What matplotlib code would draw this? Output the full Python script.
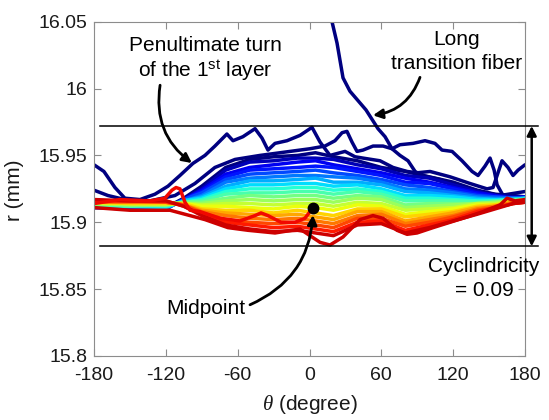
import matplotlib
matplotlib.use('Agg')
import matplotlib.pyplot as plt
import numpy as np

plt.rcParams['font.family'] = ['Liberation Sans', 'DejaVu Sans']
plt.rcParams['mathtext.fontset'] = 'custom'
plt.rcParams['mathtext.rm'] = 'Liberation Sans'
plt.rcParams['mathtext.it'] = 'Liberation Serif:italic'

# ---------------- data ----------------
theta_fan = [-180, -150, -120, -105, -90, -70, -50, -30, -10, 5, 20, 40, 60, 80, 100, 120, 140, 155, 170, 180]
fan_r = [
    [15.912, 15.910, 15.911, 15.918, 15.927, 15.941, 15.947, 15.949, 15.950, 15.952, 15.949, 15.946, 15.941, 15.938, 15.934, 15.930, 15.924, 15.921, 15.920, 15.919],
    [15.911, 15.911, 15.910, 15.917, 15.925, 15.939, 15.945, 15.946, 15.948, 15.948, 15.947, 15.943, 15.940, 15.935, 15.933, 15.928, 15.923, 15.920, 15.919, 15.919],
    [15.911, 15.910, 15.911, 15.917, 15.924, 15.936, 15.941, 15.943, 15.945, 15.946, 15.943, 15.940, 15.937, 15.933, 15.930, 15.926, 15.922, 15.920, 15.918, 15.919],
    [15.912, 15.911, 15.911, 15.917, 15.923, 15.934, 15.939, 15.940, 15.941, 15.942, 15.941, 15.938, 15.935, 15.930, 15.929, 15.925, 15.921, 15.919, 15.918, 15.918],
    [15.912, 15.911, 15.910, 15.917, 15.922, 15.932, 15.936, 15.937, 15.938, 15.939, 15.937, 15.935, 15.932, 15.928, 15.926, 15.923, 15.920, 15.919, 15.918, 15.918],
    [15.913, 15.912, 15.912, 15.916, 15.920, 15.930, 15.933, 15.934, 15.935, 15.935, 15.934, 15.933, 15.930, 15.925, 15.924, 15.922, 15.919, 15.918, 15.918, 15.918],
    [15.912, 15.912, 15.912, 15.916, 15.919, 15.927, 15.931, 15.931, 15.932, 15.933, 15.930, 15.930, 15.928, 15.923, 15.922, 15.920, 15.918, 15.917, 15.917, 15.918],
    [15.913, 15.912, 15.911, 15.916, 15.918, 15.925, 15.928, 15.928, 15.929, 15.929, 15.927, 15.928, 15.925, 15.920, 15.920, 15.919, 15.917, 15.917, 15.917, 15.918],
    [15.913, 15.913, 15.912, 15.915, 15.917, 15.923, 15.925, 15.925, 15.926, 15.926, 15.924, 15.925, 15.923, 15.918, 15.918, 15.917, 15.916, 15.916, 15.917, 15.917],
    [15.913, 15.912, 15.913, 15.915, 15.916, 15.921, 15.922, 15.922, 15.923, 15.923, 15.921, 15.923, 15.921, 15.916, 15.916, 15.916, 15.915, 15.916, 15.917, 15.917],
    [15.914, 15.913, 15.913, 15.915, 15.915, 15.918, 15.920, 15.919, 15.920, 15.920, 15.918, 15.920, 15.919, 15.913, 15.914, 15.914, 15.914, 15.915, 15.916, 15.917],
    [15.914, 15.913, 15.913, 15.914, 15.914, 15.916, 15.917, 15.916, 15.917, 15.917, 15.915, 15.918, 15.917, 15.911, 15.912, 15.913, 15.914, 15.915, 15.916, 15.917],
    [15.914, 15.914, 15.914, 15.914, 15.913, 15.914, 15.914, 15.913, 15.914, 15.914, 15.912, 15.915, 15.914, 15.909, 15.910, 15.911, 15.914, 15.914, 15.916, 15.916],
    [15.915, 15.914, 15.914, 15.914, 15.912, 15.912, 15.911, 15.910, 15.912, 15.911, 15.909, 15.913, 15.912, 15.906, 15.908, 15.910, 15.913, 15.913, 15.916, 15.916],
    [15.915, 15.914, 15.914, 15.914, 15.910, 15.909, 15.909, 15.907, 15.909, 15.907, 15.905, 15.910, 15.910, 15.904, 15.906, 15.908, 15.912, 15.913, 15.915, 15.916],
    [15.915, 15.915, 15.915, 15.913, 15.909, 15.907, 15.906, 15.905, 15.906, 15.904, 15.902, 15.908, 15.908, 15.901, 15.904, 15.907, 15.911, 15.912, 15.915, 15.916],
    [15.915, 15.915, 15.915, 15.913, 15.908, 15.905, 15.903, 15.902, 15.903, 15.901, 15.899, 15.905, 15.906, 15.899, 15.902, 15.905, 15.910, 15.912, 15.915, 15.916],
    [15.916, 15.916, 15.915, 15.913, 15.907, 15.902, 15.900, 15.899, 15.900, 15.898, 15.896, 15.903, 15.903, 15.897, 15.900, 15.904, 15.909, 15.911, 15.914, 15.915],
    [15.916, 15.916, 15.916, 15.912, 15.906, 15.900, 15.898, 15.896, 15.897, 15.895, 15.893, 15.900, 15.901, 15.894, 15.898, 15.902, 15.908, 15.911, 15.914, 15.915],
    [15.917, 15.916, 15.916, 15.912, 15.905, 15.898, 15.895, 15.893, 15.894, 15.892, 15.890, 15.898, 15.899, 15.892, 15.896, 15.901, 15.906, 15.910, 15.914, 15.915],
]

# penultimate turn of the 1st layer
theta_pen = [-180, -171.7, -162.5, -154.2, -141.6, -129.1, -118.2, -108.2, -97.4, -87.3, -79.0, -69.0, -63.9, -55.6,
             -45.5, -39.7, -34.7, -28.8, -18.8, -7.9, 2.1, 8.8, 17.1, 29.7, 38.0, 44.7, 58.9, 69.8, 81.5, 89.8,
             100.7, 117.4, 134.1, 148.3, 153.3, 156.7, 160.8, 165.8, 170.0, 174.2, 180]
r_pen = [15.943, 15.938, 15.926, 15.918, 15.917, 15.921, 15.927, 15.935, 15.944, 15.950, 15.957, 15.966, 15.961, 15.964,
         15.970, 15.963, 15.954, 15.959, 15.961, 15.965, 15.971, 15.960, 15.950, 15.953, 15.949, 15.948, 15.946, 15.941,
         15.938, 15.937, 15.938, 15.934, 15.929, 15.925, 15.926, 15.935, 15.946, 15.941, 15.935, 15.939, 15.943]

# another early (dark blue) turn
theta_early = [-180, -168.3, -154.2, -133.3, -112.4, -95.7, -79.0, -62.2, -41.4, -16.3, 0.4, 12.9, 21.3, 27.2, 31.3,
               35.5, 39.7, 44.7, 53.1, 61.4, 68.9, 75.6, 82.3, 88.2, 94.0, 109.0, 125.7, 142.5, 159.2, 180]
r_early = [15.924, 15.920, 15.917, 15.916, 15.920, 15.929, 15.941, 15.947, 15.950, 15.953, 15.955, 15.957, 15.961, 15.967,
           15.968, 15.960, 15.953, 15.954, 15.957, 15.957, 15.955, 15.950, 15.946, 15.938, 15.935, 15.932, 15.927,
           15.923, 15.920, 15.923]

# long transition fiber
theta_long = [16.3, 18.8, 23.0, 28.0, 33.8, 40.5, 47.2, 52.2, 57.2, 63.1, 68.9, 75.6, 86.5, 96.5, 104.8, 110.7, 119.1,
              127.4, 135.8, 140.8, 146.6, 150.8, 154.2, 156.7, 161.7, 169.2, 180]
r_long = [16.058, 16.050, 16.034, 16.008, 15.998, 15.991, 15.984, 15.977, 15.970, 15.964, 15.955, 15.958, 15.959, 15.961,
          15.959, 15.954, 15.953, 15.946, 15.938, 15.935, 15.942, 15.948, 15.939, 15.928, 15.920, 15.918, 15.919]

# last turns (red)
theta_last1 = [-180, -158.3, -133.3, -120.8, -114.9, -111.5, -108.2, -104.0, -99.8, -91.5, -74.8, -58.1, -45.5, -40.5,
               -34.7, -23.8, -12.1, -3.8, 0.4, 3.3]
r_last1 = [15.914, 15.917, 15.916, 15.918, 15.924, 15.926, 15.925, 15.915, 15.909, 15.908, 15.903, 15.901, 15.905, 15.907,
           15.905, 15.900, 15.900, 15.903, 15.908, 15.911]

theta_last2 = [-180, -150, -116.5, -87.3, -68.1, -51.4, -28.8, -7.9, 0.4, 8.8, 17.1, 28.0, 42.2, 53.0, 61.4, 73.1, 81.5,
               89.8, 103.2, 117.4, 131.6, 145.0, 159.2, 165.0, 171.7, 180]
r_last2 = [15.911, 15.909, 15.909, 15.902, 15.896, 15.894, 15.892, 15.895, 15.890, 15.885, 15.883, 15.889, 15.902, 15.905,
           15.903, 15.894, 15.891, 15.892, 15.896, 15.900, 15.904, 15.908, 15.913, 15.918, 15.916, 15.917]

mid_theta = [3.3]
mid_r = [15.911]

band_theta = [-175, 191]
band_r = [15.972, 15.882]

x_ticks = [-180, -120, -60, 0, 60, 120, 180]
y_ticks = [15.8, 15.85, 15.9, 15.95, 16.0, 16.05]
y_ticklabels = ['15.8', '15.85', '15.9', '15.95', '16', '16.05']

# ---------------- figure ----------------
W, H = 549, 420
fig = plt.figure(figsize=(W / 100, H / 100), dpi=100)
ax = fig.add_axes([94 / W, 1 - 356 / H, (525 - 94) / W, (356 - 21.7) / H])

navy = plt.cm.jet(0.0)
lw = 2.5

for th, rr in [(theta_long, r_long), (theta_early, r_early), (theta_pen, r_pen)]:
    ax.plot(th, rr, color=navy, lw=lw, solid_joinstyle='round', solid_capstyle='round')

n = len(fan_r)
for k, rr in enumerate(fan_r):
    ax.plot(theta_fan, rr, color=plt.cm.jet(0.93 * k / (n - 1)), lw=lw, solid_joinstyle='round')

ax.plot(theta_last2, r_last2, color=plt.cm.jet(0.93), lw=lw, solid_joinstyle='round')
ax.plot(theta_last1, r_last1, color=plt.cm.jet(0.90), lw=lw, solid_joinstyle='round')

ax.plot(mid_theta, mid_r, 'o', color='k', ms=7.5, zorder=10)

for rv in band_r:
    ax.plot(band_theta, [rv, rv], color='k', lw=1.1, clip_on=False, zorder=9)

ax.annotate('', xy=(185.6, band_r[1]), xytext=(185.6, band_r[0]),
            arrowprops=dict(arrowstyle='<|-|>', color='k', lw=1.8, mutation_scale=14, shrinkA=0, shrinkB=0),
            annotation_clip=False)

ax.set_xlim(-180, 180)
ax.set_ylim(15.8, 16.05)
ax.set_xticks(x_ticks)
ax.set_xticklabels([str(v) for v in x_ticks])
ax.set_yticks(y_ticks)
ax.set_yticklabels(y_ticklabels)

for s in ax.spines.values():
    s.set_color('0.55')
    s.set_linewidth(0.8)
ax.tick_params(direction='in', top=True, right=True, length=5, width=0.8, color='0.55',
               labelsize=14, labelcolor='0.1')
ax.tick_params(axis='x', pad=8)
ax.tick_params(axis='y', pad=5)

tkw = dict(fontsize=15, ha='center', va='center', color='k')
ax.text(-86.9, 16.0323, 'Penultimate turn', **tkw)
ax.text(-86.9, 16.0137, r'of the 1$^{\rm st}$ layer', **tkw)
ax.text(123.2, 16.0368, 'Long', **tkw)
ax.text(123.2, 16.0189, 'transition fiber', **tkw)
ax.text(145.8, 15.8666, 'Cyclindricity', clip_on=False, **tkw)
ax.text(145.8, 15.8487, '= 0.09', clip_on=False, **tkw)
ax.text(-86.5, 15.8353, 'Midpoint', **tkw)

akw = dict(arrowstyle='-|>', color='k', lw=2, mutation_scale=14, shrinkA=0, shrinkB=0)
ax.annotate('', xy=(-98.2, 15.9443), xytext=(-124.8, 16.0025),
            arrowprops=dict(connectionstyle='arc3,rad=0.3', **akw))
ax.annotate('', xy=(53.0, 15.980), xytext=(92.3, 16.0084),
            arrowprops=dict(connectionstyle='arc3,rad=-0.3', **akw))
ax.annotate('', xy=(2.9, 15.9054), xytext=(-49.7, 15.8383),
            arrowprops=dict(connectionstyle='arc3,rad=0.3', **akw))

fig.text(15 / W, 1 - 190 / H, 'r (mm)', rotation=90, ha='center', va='center', fontsize=15, color='0.1')
fig.text(310 / W, 1 - 405 / H, r'$\it{\theta}$ (degree)', ha='center', va='center', fontsize=15, color='0.1')

fig.savefig('out.png', dpi=100)
